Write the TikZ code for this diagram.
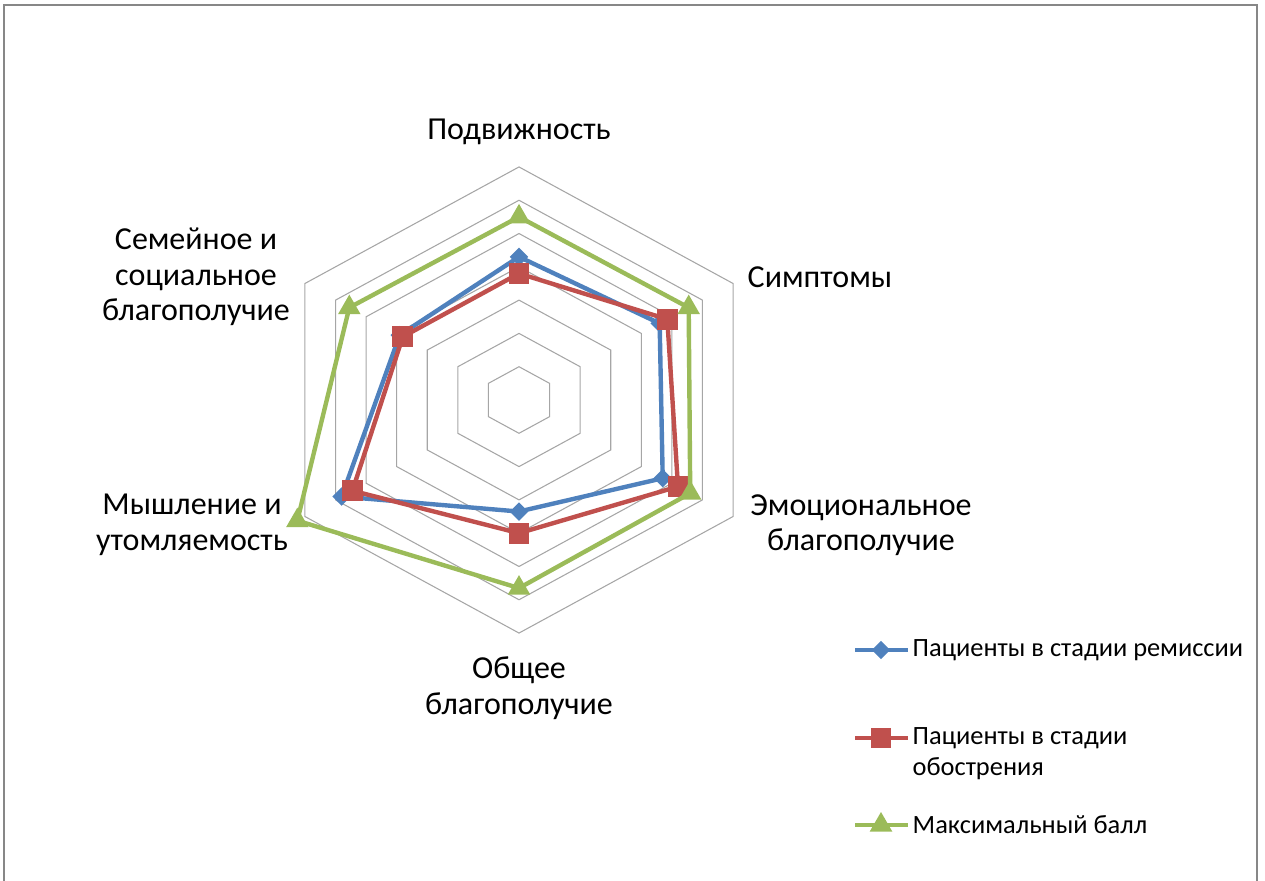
\documentclass[tikz,border=0pt]{standalone}
\usepackage{fontspec}
\setmainfont{Carlito}
\usetikzlibrary{shapes.geometric}
\definecolor{remblue}{HTML}{4F81BD}
\definecolor{exared}{HTML}{C0504D}
\definecolor{maxgreen}{HTML}{9BBB59}
\definecolor{ringgray}{HTML}{A6A6A6}
\definecolor{framegray}{HTML}{878787}
\tikzset{
  ring/.style={draw=ringgray, line width=0.8pt},
  series/.style={line width=3.3pt, line join=round},
  diamondmark/.style={diamond, fill=remblue, inner sep=0pt, minimum width=14pt, minimum height=14pt},
  squaremark/.style={rectangle, fill=exared, inner sep=0pt, minimum size=15.5pt},
  trianglemark/.style={regular polygon, regular polygon sides=3, fill=maxgreen, inner sep=0pt, minimum size=19.5pt},
  axislabel/.style={align=center, font=\fontsize{24}{26.6}\selectfont},
  legendtext/.style={anchor=west, align=left, font=\fontsize{19.8}{23.25}\selectfont},
}
\begin{document}
\begin{tikzpicture}[x=0.75pt,y=-0.75pt]
    \useasboundingbox (0,0) rectangle (1265,881);
    %% frame of the chart area
    \draw[framegray, line width=2pt] (4,881) -- (4,5) -- (1257,5) -- (1257,881);
    %% radar grid and series
    \begin{scope}[shift={(519,400)}, x=26.48pt, y=24.97pt]
        \foreach \r in {1,...,7}
            \draw[ring] (90:\r) -- (30:\r) -- (-30:\r) -- (-90:\r) -- (210:\r) -- (150:\r) -- cycle;
        \foreach \v [count=\i] in {4.3,4.6,4.7,3.35,5.8,3.9}
            \coordinate (rem\i) at ({150-60*\i}:\v);
        \foreach \v [count=\i] in {3.8,4.85,5.2,4.0,5.45,3.8}
            \coordinate (exa\i) at ({150-60*\i}:\v);
        \foreach \v [count=\i] in {5.5,5.55,5.6,5.65,7.25,5.55}
            \coordinate (max\i) at ({150-60*\i}:\v);
        %% remission
        \draw[series, remblue] (rem1) -- (rem2) -- (rem3) -- (rem4) -- (rem5) -- (rem6) -- cycle;
        \foreach \i in {1,...,6}
            \node[diamondmark] (remmark\i) at (rem\i) {};
        %% exacerbation
        \draw[series, exared] (exa1) -- (exa2) -- (exa3) -- (exa4) -- (exa5) -- (exa6) -- cycle;
        \foreach \i in {1,...,6}
            \node[squaremark] (examark\i) at (exa\i) {};
        %% maximum
        \draw[series, maxgreen] (max1) -- (max2) -- (max3) -- (max4) -- (max5) -- (max6) -- cycle;
        \foreach \i in {1,...,6}
            \node[trianglemark] (maxmark\i) at (max\i) {};
    \end{scope}
    %% axis labels
    \node[axislabel] (mobility) at (519,132) {Подвижность};
    \node[axislabel] (symptoms) at (820,277) {Симптомы};
    \node[axislabel] (emotional) at (861,525) {Эмоциональное\\благополучие};
    \node[axislabel] (general) at (519,688) {Общее\\благополучие};
    \node[axislabel] (thinking) at (192,525) {Мышление и\\утомляемость};
    \node[axislabel] (family) at (196,277) {Семейное и\\социальное\\благополучие};
    %% legend
    \coordinate (lgrem a) at (855,650);
    \coordinate (lgrem b) at (908,650);
    \draw[series, remblue] (lgrem a) -- (lgrem b);
    \node[diamondmark] (lgremmark) at (881,650) {};
    \node[legendtext] (lgremtext) at (908,650) {Пациенты в стадии ремиссии};
    \coordinate (lgexa a) at (855,738);
    \coordinate (lgexa b) at (908,738);
    \draw[series, exared] (lgexa a) -- (lgexa b);
    \node[squaremark] (lgexamark) at (881,738) {};
    \node[legendtext] (lgexatext) at (908,753.5) {Пациенты в стадии\\обострения};
    \coordinate (lgmax a) at (855,825);
    \coordinate (lgmax b) at (908,825);
    \draw[series, maxgreen] (lgmax a) -- (lgmax b);
    \node[trianglemark] (lgmaxmark) at (881,825) {};
    \node[legendtext] (lgmaxtext) at (908,825) {Максимальный балл};
\end{tikzpicture}
\end{document}
